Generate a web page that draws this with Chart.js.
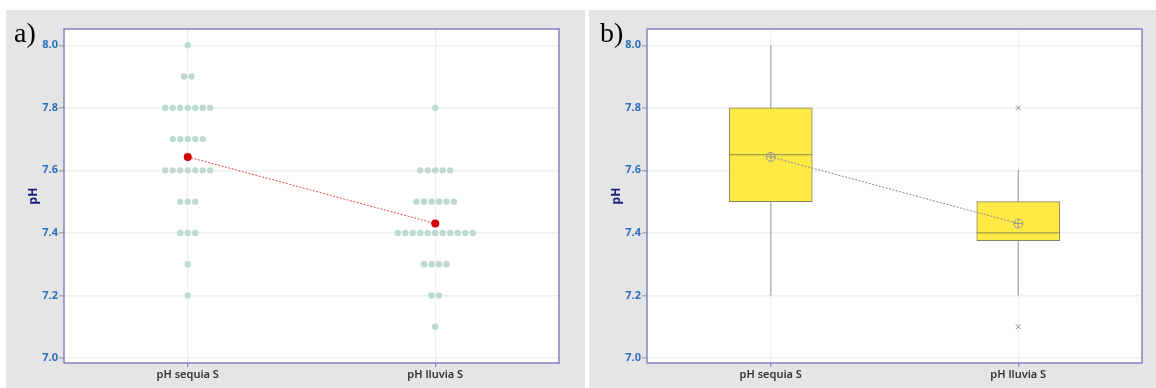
<!DOCTYPE html>
<html>
<head>
<meta charset="utf-8">
<script src="https://cdn.jsdelivr.net/npm/chart.js@4/dist/chart.umd.min.js"></script>
<style>
    body { margin: 0; background: #ffffff; width: 1156px; height: 388px; position: relative; overflow: hidden; }
    .panneau { position: absolute; top: 10px; height: 378px; background: #e5e5e5; }
    .lettre { position: absolute; top: 19px; font-family: "Liberation Serif", serif; font-size: 28px; line-height: 1; color: #000; }
    canvas { display: block; }
</style>
</head>
<body>
<div class="panneau" style="left:6px; width:579px;"><canvas id="graphA" width="579" height="378"></canvas></div>
<div class="panneau" style="left:589px; width:567px;"><canvas id="graphB" width="567" height="378"></canvas></div>
<div class="lettre" style="left:14px;">a)</div>
<div class="lettre" style="left:600px;">b)</div>
<script>
// Données
const categorias = ["pH sequia S", "pH lluvia S"];
const yTicks = [7.0, 7.2, 7.4, 7.6, 7.8, 8.0];

const sequiaValores = [8.0, 7.9, 7.8, 7.7, 7.6, 7.5, 7.4, 7.3, 7.2];
const sequiaConteos = [1, 2, 7, 5, 7, 3, 3, 1, 1];
const lluviaValores = [7.8, 7.6, 7.5, 7.4, 7.3, 7.2, 7.1];
const lluviaConteos = [1, 5, 6, 11, 4, 2, 1];

const medias = [7.643, 7.43];
const cuartil1 = [7.5, 7.375];
const mediana = [7.65, 7.4];
const cuartil3 = [7.8, 7.5];
const bigoteMin = [7.2, 7.2];
const bigoteMax = [8.0, 7.6];
const atipicos = [[], [7.8, 7.1]];

const anchoCaja = 83;       // px
const pasoPunto = 0.0303;   // écart horizontal entre points (unités x)
const demiCaja = 0.168;     // demi largeur de boîte (unités x)

const police = "'Noto Sans', 'DejaVu Sans', sans-serif";

// Fond blanc + cadre violet autour de la zone de tracé
const cadre = {
    id: "cadre",
    beforeDraw(chart) {
        const { ctx, chartArea: a } = chart;
        ctx.save();
        ctx.fillStyle = "#ffffff";
        ctx.fillRect(a.left, a.top, a.right - a.left, a.bottom - a.top);
        ctx.restore();
    },
    afterDraw(chart) {
        const { ctx, chartArea: a } = chart;
        ctx.save();
        ctx.strokeStyle = "#8383c3";
        ctx.lineWidth = 1.5;
        ctx.strokeRect(a.left, a.top, a.right - a.left, a.bottom - a.top);
        ctx.restore();
    }
};

function optionsCommunes(margeDroite) {
    return {
        responsive: false,
        devicePixelRatio: 1,
        animation: false,
        layout: { padding: { top: 19, right: margeDroite, left: 0, bottom: 0 } },
        plugins: { legend: { display: false }, tooltip: { enabled: false } },
        scales: {
            x: {
                type: "linear",
                min: 0.5,
                max: 2.5,
                offset: false,
                afterBuildTicks: scale => { scale.ticks = [{ value: 1 }, { value: 2 }]; },
                afterFit: scale => { scale.height = 25; },
                ticks: {
                    padding: 1,
                    color: "#333333",
                    font: { family: police, size: 11, weight: "600" },
                    callback: v => categorias[v - 1]
                },
                grid: { offset: false, color: "#eeeeee", lineWidth: 1.2, tickLength: 4, tickColor: "#8383c3" },
                border: { display: false }
            },
            y: {
                type: "linear",
                min: 6.984,
                max: 8.052,
                afterBuildTicks: scale => { scale.ticks = yTicks.map(v => ({ value: v })); },
                afterFit: scale => { scale.width = 58; },
                ticks: {
                    padding: 1,
                    color: "#2c6fbe",
                    font: { family: police, size: 11, weight: "bold" },
                    callback: v => v.toFixed(1)
                },
                grid: { color: "#efefef", lineWidth: 1.5, tickLength: 5, tickColor: "#aaaaaa" },
                border: { display: false },
                title: {
                    display: true,
                    text: "pH",
                    color: "#1d1d7c",
                    font: { family: police, size: 12, weight: "bold" },
                    padding: { top: 20, bottom: 0 }
                }
            }
        }
    };
}

// a) diagramme de points
function pointsEmpiles(cat, valeurs, conteos) {
    const pts = [];
    valeurs.forEach((v, i) => {
        const n = conteos[i];
        for (let k = 0; k < n; k++) {
            pts.push({ x: cat + (k - (n - 1) / 2) * pasoPunto, y: v });
        }
    });
    return pts;
}

const puntos = pointsEmpiles(1, sequiaValores, sequiaConteos)
    .concat(pointsEmpiles(2, lluviaValores, lluviaConteos));

new Chart(document.querySelector("#graphA"), {
    type: "scatter",
    data: {
        datasets: [
            {
                type: "line",
                data: medias.map((m, i) => ({ x: i + 1, y: m })),
                borderColor: "#e24a4a",
                borderWidth: 1,
                borderDash: [2, 1.5],
                pointRadius: 4,
                pointBackgroundColor: "#d60000",
                pointBorderWidth: 0,
                order: 0
            },
            {
                data: puntos,
                pointRadius: 3.2,
                pointBackgroundColor: "#bed9d3",
                pointBorderWidth: 0,
                order: 1
            }
        ]
    },
    options: optionsCommunes(26),
    plugins: [cadre]
});

// b) boîtes à moustaches
const jeuxB = [];
categorias.forEach((c, i) => {
    jeuxB.push({
        type: "line",
        data: [{ x: i + 1, y: bigoteMin[i] }, { x: i + 1, y: bigoteMax[i] }],
        borderColor: "#b4b4b4",
        borderWidth: 1.5,
        pointRadius: 0,
        order: 6
    });
    jeuxB.push({
        type: "line",
        data: [{ x: i + 1 - demiCaja, y: mediana[i] }, { x: i + 1 + demiCaja, y: mediana[i] }],
        borderColor: "#8c8850",
        borderWidth: 1,
        pointRadius: 0,
        order: 3
    });
});

jeuxB.push({
    type: "bar",
    data: categorias.map((c, i) => ({ x: i + 1, y: [cuartil1[i], cuartil3[i]] })),
    backgroundColor: "#ffea45",
    borderColor: "#8a8760",
    borderWidth: 1,
    borderSkipped: false,
    barThickness: anchoCaja,
    order: 4
});

jeuxB.push({
    type: "line",
    data: medias.map((m, i) => ({ x: i + 1, y: m })),
    borderColor: "#8a8a8a",
    borderWidth: 1,
    borderDash: [2, 1.5],
    pointStyle: "circle",
    pointRadius: 4.5,
    pointBackgroundColor: "rgba(0,0,0,0)",
    pointBorderColor: "#9a9a9a",
    pointBorderWidth: 1,
    order: 1
});
jeuxB.push({
    type: "scatter",
    data: medias.map((m, i) => ({ x: i + 1, y: m })),
    pointStyle: "cross",
    pointRadius: 4.5,
    pointBorderColor: "#9a9a9a",
    pointBorderWidth: 1,
    order: 0
});

const ptsAtipicos = [];
atipicos.forEach((lista, i) => lista.forEach(v => ptsAtipicos.push({ x: i + 1, y: v })));
jeuxB.push({
    type: "scatter",
    data: ptsAtipicos,
    pointStyle: "crossRot",
    pointRadius: 3.5,
    pointBorderColor: "#8a8a8a",
    pointBorderWidth: 1,
    order: 0
});

new Chart(document.querySelector("#graphB"), {
    type: "bar",
    data: { datasets: jeuxB },
    options: optionsCommunes(14),
    plugins: [cadre]
});
</script>
</body>
</html>
